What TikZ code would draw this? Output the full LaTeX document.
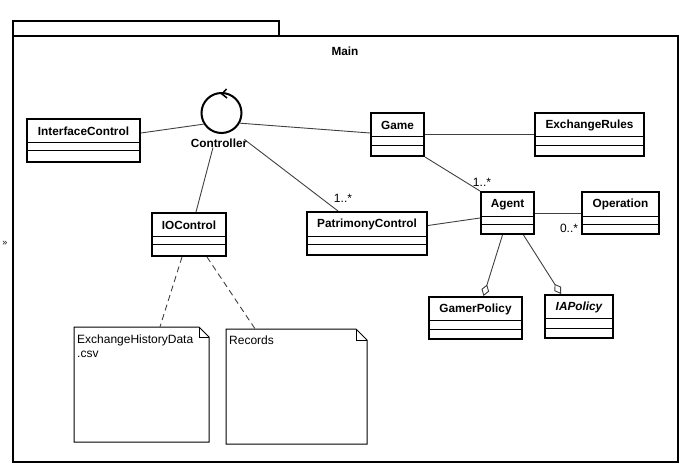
\documentclass[tikz,border=0pt]{standalone}
\usepackage{fontspec}
\setmainfont{Liberation Sans}
\usetikzlibrary{fit,calc,arrows.meta}
\tikzset{
  classbox/.style={draw, line width=2pt, inner sep=0pt},
  classname/.style={font=\fontsize{11.8}{14}\selectfont\bfseries, inner sep=0pt},
  comp/.style={line width=1pt},
  conn/.style={line width=0.9pt, draw=black!75},
  mult/.style={font=\fontsize{12}{14}\selectfont, inner sep=0pt},
  notetext/.style={font=\fontsize{12}{14}\selectfont, inner sep=0pt, anchor=base west},
  noteline/.style={line width=1pt},
  dep/.style={conn, dash pattern=on 6pt off 4pt},
  agg/.style={conn, -{Diamond[open,length=12pt,width=8pt,line width=0.9pt]}},
  pkg/.style={draw, line width=2pt, inner sep=0pt},
}
\newcommand{\umlclass}[8]{%
  \node[classbox, fit={(#2,#3) (#4,#5)}] (#1) {};
  \draw[comp] (#2,#6) -- (#4,#6) (#2,#7) -- (#4,#7);
  \node[classname] (#1-name) at ($(#2,#3)!0.5!(#4,#6)$) {#8};
}
\newcommand{\umlnote}[6]{%
  \node[inner sep=0pt, fit={(#2,#3) (#4,#5)}] (#1) {};
  \draw[noteline] (#2,#3) -- ({#4-#6},#3) -- (#4,{#3+#6}) -- (#4,#5) -- (#2,#5) -- cycle;
  \draw[noteline] ({#4-#6},#3) -- ({#4-#6},{#3+#6}) -- (#4,{#3+#6});
}
\begin{document}
\begin{tikzpicture}[x=1pt,y=-1pt]
\useasboundingbox (0,0) rectangle (688,470);
% package
\node[pkg, fit={(13,21) (279,36)}] (tab) {};
\node[pkg, fit={(13,36) (678,462)}] (main) {};
\node[classname] (mainlbl) at (345,51) {Main};
\node[font=\fontsize{9}{10}\selectfont, inner sep=0pt] (chev) at (5,243) {»};

% classes
\umlclass{ic}{27}{119}{140}{162}{143}{151}{InterfaceControl}
\umlclass{game}{371}{113}{424}{156}{137}{146}{Game}
\umlclass{er}{535}{113}{644}{156}{137}{146}{ExchangeRules}
\umlclass{io}{152}{213}{226}{256}{237}{245}{IOControl}
\umlclass{pc}{307}{212}{427}{255}{237}{245}{PatrimonyControl}
\umlclass{agent}{481}{192}{534}{234}{217}{225}{Agent}
\umlclass{op}{582}{192}{659}{234}{217}{225}{Operation}
\umlclass{gp}{429}{297}{522}{339}{321}{329}{GamerPolicy}
\umlclass{ia}{545}{295}{613}{338}{319}{328}{\itshape IAPolicy}

% controller
\node[draw, circle, line width=2pt, minimum size=40pt, inner sep=0pt] (ctrl) at (221.5,113) {};
\draw[line width=1.5pt] ($(ctrl.north)+(5,-3)$) -- ($(ctrl.north)+(0.5,2)$) -- ($(ctrl.north)+(5.5,6)$);
\node[classname] (ctrllbl) at (219,143) {Controller};

% notes
\umlnote{n1}{74}{327}{209}{442}{10}
\node[notetext] (n1a) at (77,343) {ExchangeHistoryData};
\node[notetext] (n1b) at (77,357) {.csv};
\umlnote{n2}{226}{329}{367}{444}{11}
\node[notetext] (n2a) at (229,344) {Records};

% connectors
\draw[conn] ([yshift=7.5]ic.east) -- (ctrl.212);
\draw[conn] (ctrl.-29) -- ([yshift=1.5]game.west);
\draw[conn] ([xshift=-6]ctrllbl.south) -- ([xshift=7]io.north);
\draw[conn] ([xshift=-3,yshift=-1]ctrllbl.north east) -- ([xshift=-29]pc.north);
\node[mult] (m1) at (343,198) {1..*};
\draw[conn] (game.east) -- (er.west);
\draw[conn] (game.south east) -- (agent.north west);
\node[mult] (m2) at (482,182) {1..*};
\draw[conn] ([yshift=-5]agent.west) -- ([yshift=8]pc.east);
\draw[conn] (agent.east) -- (op.west);
\node[mult] (m3) at (569,228) {0..*};
\draw[agg] ([xshift=-5]agent.south) -- ([xshift=8]gp.north);
\draw[agg] ([xshift=16]agent.south) -- ([xshift=-18]ia.north);
\draw[dep] ([xshift=-7]io.south) -- ([xshift=18.5]n1.north);
\draw[dep] ([xshift=18]io.south) -- ([xshift=-41.5]n2.north);
\end{tikzpicture}
\end{document}
